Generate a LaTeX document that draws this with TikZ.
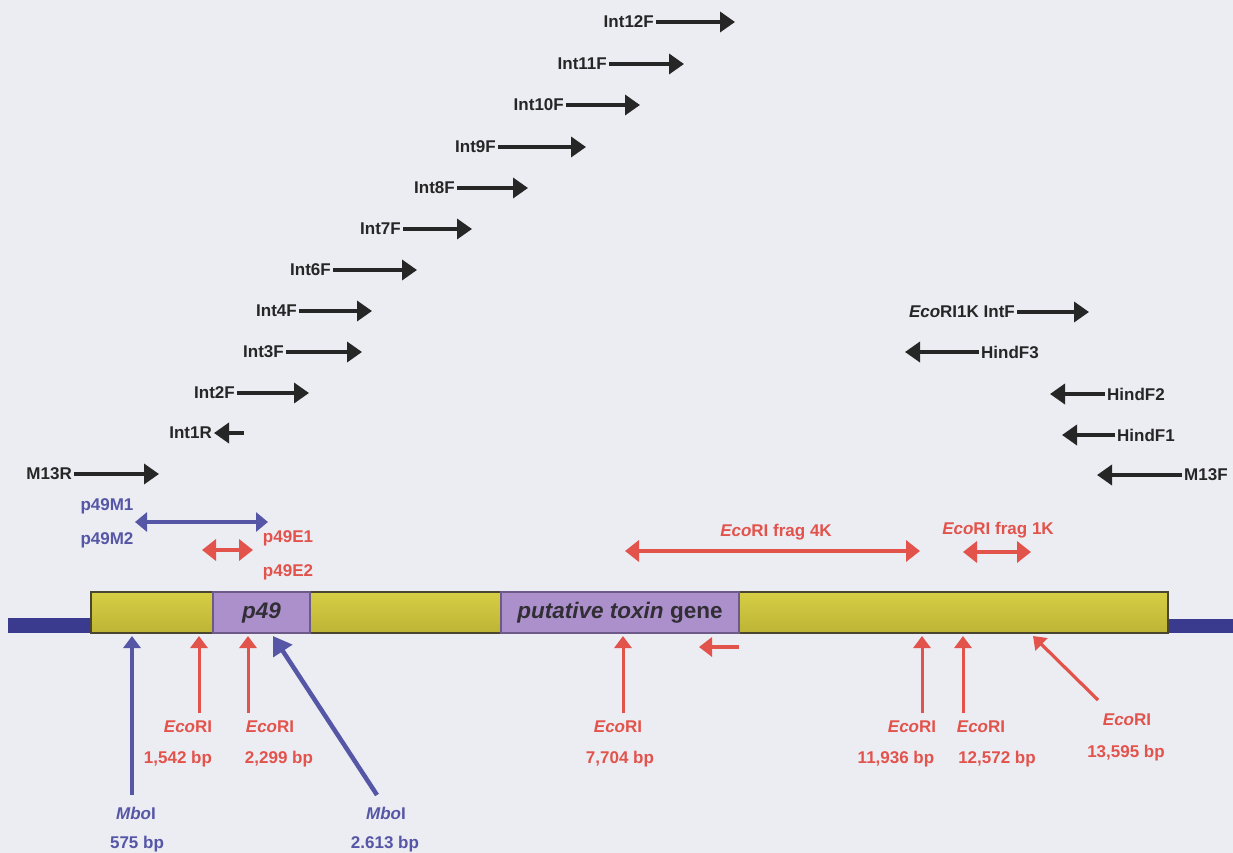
\documentclass[tikz,border=0pt]{standalone}
\usepackage{fontspec}
\setmainfont{Liberation Sans}
\usetikzlibrary{arrows.meta}
\definecolor{bg}{HTML}{ECECF3}
\definecolor{ink}{HTML}{262626}
\definecolor{rd}{HTML}{E2534C}
\definecolor{bl}{HTML}{5656A6}
\definecolor{dbl}{HTML}{3A3A8E}
\definecolor{yel}{HTML}{F2EE5C}
\definecolor{yelt}{HTML}{D6CE44}
\definecolor{yelb}{HTML}{BDB436}
\definecolor{pur}{HTML}{AC90CB}
\definecolor{purd}{HTML}{6E5A88}
\definecolor{edge}{HTML}{4A4630}
\begin{document}
\begin{tikzpicture}[x=1pt,y=-1pt,
  lbl/.style={font=\fontsize{17}{20}\selectfont\bfseries, inner sep=2pt},
  klbl/.style={lbl,text=ink},
  rlbl/.style={lbl,text=rd},
  blbl/.style={lbl,text=bl},
  parr/.style={draw=ink,line width=3.6pt,-{Triangle[length=15pt,width=20pt]}},
  rdbl/.style={draw=rd,line width=4pt,{Triangle[length=14pt,width=21pt]}-{Triangle[length=14pt,width=21pt]}},
  bdbl/.style={draw=bl,line width=3.8pt,{Triangle[length=12pt,width=19pt]}-{Triangle[length=12pt,width=19pt]}},
  rup/.style={draw=rd,line width=3pt,-{Triangle[length=12pt,width=17pt]}},
  bup/.style={draw=bl,line width=3.2pt,-{Triangle[length=12pt,width=17pt]}},
  bdiag/.style={draw=bl,line width=4.5pt,-{Triangle[length=18pt,width=22pt]}},
  genebox/.style={draw=purd,line width=1.2pt,fill=pur,minimum height=41pt,inner sep=0pt,
    text=ink!85!purd,font=\fontsize{22.5}{26}\selectfont\bfseries},
]
% background
\fill[bg] (0,0) rectangle (1233,853);
\useasboundingbox (0,0) rectangle (1233,853);

% ---- forward primers (left) ----
\node[klbl,anchor=east] (i12) at (656,22) {Int12F};
\coordinate (i12e) at (735,22);
\node[klbl,anchor=east] (i11) at (609,64) {Int11F};
\coordinate (i11e) at (684,64);
\node[klbl,anchor=east] (i10) at (566,105) {Int10F};
\coordinate (i10e) at (640,105);
\node[klbl,anchor=east] (i9) at (498,147) {Int9F};
\coordinate (i9e) at (586,147);
\node[klbl,anchor=east] (i8) at (457,188) {Int8F};
\coordinate (i8e) at (528,188);
\node[klbl,anchor=east] (i7) at (403,229) {Int7F};
\coordinate (i7e) at (472,229);
\node[klbl,anchor=east] (i6) at (333,270) {Int6F};
\coordinate (i6e) at (417,270);
\node[klbl,anchor=east] (i4) at (299,311) {Int4F};
\coordinate (i4e) at (372,311);
\node[klbl,anchor=east] (i3) at (286,352) {Int3F};
\coordinate (i3e) at (362,352);
\node[klbl,anchor=east] (i2) at (237,393) {Int2F};
\coordinate (i2e) at (309,393);
\node[klbl,anchor=east] (i1r) at (214,433) {Int1R};
\coordinate (i1rt) at (244,433);
\node[klbl,anchor=east] (m13r) at (74,474) {M13R};
\coordinate (m13re) at (159,474);
\foreach \n in {i12,i11,i10,i9,i8,i7,i6,i4,i3,i2,m13r}
  \draw[parr] (\n.east) -- (\n e);
\draw[parr] (i1rt) -- (i1r.east);

% ---- right primers ----
\node[klbl,anchor=east] (e1k) at (1017,312) {\textit{Eco}RI1K IntF};
\coordinate (e1ke) at (1089,312);
\draw[parr] (e1k.east) -- (e1ke);
\node[klbl,anchor=west] (hf3) at (979,352) {HindF3};
\coordinate (hf3h) at (905,352);
\node[klbl,anchor=west] (hf2) at (1105,394) {HindF2};
\coordinate (hf2h) at (1050,394);
\node[klbl,anchor=west] (hf1) at (1115,435) {HindF1};
\coordinate (hf1h) at (1062,435);
\node[klbl,anchor=west] (m13f) at (1182,475) {M13F};
\coordinate (m13fh) at (1097,475);
\foreach \n in {hf3,hf2,hf1,m13f}
  \draw[parr] (\n.west) -- (\n h);

% ---- p49 probes ----
\node[blbl] (pm1) at (107,506) {p49M1};
\node[blbl] (pm2) at (107,540) {p49M2};
\coordinate (pmL) at (135,522);
\coordinate (pmR) at (268,522);
\draw[bdbl] (pmL) -- (pmR);
\node[rlbl] (pe1) at (288,538) {p49E1};
\node[rlbl] (pe2) at (288,572) {p49E2};
\coordinate (peL) at (202,550);
\coordinate (peR) at (253,550);
\draw[rdbl] (peL) -- (peR);

% ---- EcoRI fragments ----
\node[rlbl] (f4) at (776,532) {\textit{Eco}RI frag 4K};
\coordinate (f4L) at (625,551);
\coordinate (f4R) at (920,551);
\draw[rdbl] (f4L) -- (f4R);
\node[rlbl] (f1) at (998,530) {\textit{Eco}RI frag 1K};
\coordinate (f1L) at (963,552);
\coordinate (f1R) at (1031,552);
\draw[rdbl] (f1L) -- (f1R);

% ---- DNA line and bar ----
\fill[dbl] (8,618) rectangle (92,633);
\fill[dbl] (1167,619) rectangle (1233,633);
\shade[top color=yelt,middle color=yel,bottom color=yelb] (91,592) rectangle (1168,633);
\draw[edge,line width=1.3pt] (91,592) rectangle (1168,633);
\node[genebox,minimum width=97pt] (p49) at (261.5,612.5) {\itshape p49};
\node[genebox,minimum width=238pt] (tox) at (620,612.5) {\textit{putative toxin} gene};

% ---- restriction sites ----
\coordinate (m1t) at (132,795); \coordinate (m1h) at (132,636);
\draw[bup] (m1t) -- (m1h);
\node[blbl] (mb1) at (136,813) {\textit{Mbo}I};
\node[blbl] (mb1bp) at (137,844) {575 bp};

\coordinate (m2t) at (377,795); \coordinate (m2h) at (273,636);
\draw[bdiag] (m2t) -- (m2h);
\node[blbl] (mb2) at (386,813) {\textit{Mbo}I};
\node[blbl] (mb2bp) at (385,844) {2.613 bp};

\coordinate (r1t) at (199,713); \coordinate (r1h) at (199,636);
\draw[rup] (r1t) -- (r1h);
\node[rlbl] (er1) at (188,727) {\textit{Eco}RI};
\node[rlbl] (er1bp) at (178,759) {1,542 bp};

\coordinate (r2t) at (248,713); \coordinate (r2h) at (248,636);
\draw[rup] (r2t) -- (r2h);
\node[rlbl] (er2) at (270,727) {\textit{Eco}RI};
\node[rlbl] (er2bp) at (279,759) {2,299 bp};

\coordinate (r3t) at (623,713); \coordinate (r3h) at (623,636);
\draw[rup] (r3t) -- (r3h);
\node[rlbl] (er3) at (618,727) {\textit{Eco}RI};
\node[rlbl] (er3bp) at (620,759) {7,704 bp};

\coordinate (sat) at (739,647); \coordinate (sah) at (699,647);
\draw[draw=rd,line width=4pt,-{Triangle[length=13pt,width=19pt]}] (sat) -- (sah);

\coordinate (r4t) at (922,713); \coordinate (r4h) at (922,636);
\draw[rup] (r4t) -- (r4h);
\node[rlbl] (er4) at (912,727) {\textit{Eco}RI};
\node[rlbl] (er4bp) at (896,759) {11,936 bp};

\coordinate (r5t) at (963,713); \coordinate (r5h) at (963,636);
\draw[rup] (r5t) -- (r5h);
\node[rlbl] (er5) at (981,727) {\textit{Eco}RI};
\node[rlbl] (er5bp) at (997,759) {12,572 bp};

\coordinate (r6t) at (1098,700); \coordinate (r6h) at (1033,636);
\draw[rup,line width=3.2pt] (r6t) -- (r6h);
\node[rlbl] (er6) at (1127,720) {\textit{Eco}RI};
\node[rlbl] (er6bp) at (1126,753) {13,595 bp};
\end{tikzpicture}
\end{document}
